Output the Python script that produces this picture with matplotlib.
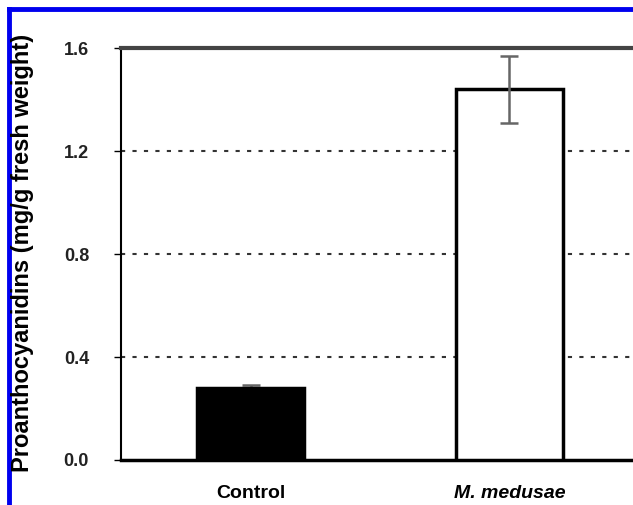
import matplotlib

matplotlib.use("Agg")
import matplotlib.pyplot as plt
from matplotlib.lines import Line2D

# 数据
categories = ["Control", "M. medusae"]
values = [0.28, 1.44]
errors = [0.01, 0.13]
bar_colors = ["black", "white"]
yticks = [0.0, 0.4, 0.8, 1.2, 1.6]

plt.rcParams["font.family"] = ["Liberation Sans", "DejaVu Sans"]

fig = plt.figure(figsize=(6.33, 5.05), dpi=100)
ax = fig.add_axes([121 / 633, 1 - 460 / 505, 518 / 633, 412 / 505])

x = list(range(len(categories)))
ax.bar(x, values, width=0.41, color=bar_colors, edgecolor="black", linewidth=2.5, zorder=3)
# 黑色柱上的误差线下半部分被遮住
for xi, v, e, c in zip(x, values, errors, bar_colors):
    z = 2 if c == "black" else 4
    ax.errorbar([xi], [v], yerr=[e], fmt="none", ecolor="#666666", elinewidth=1.8,
                capsize=6.5, capthick=1.8, zorder=z)

ax.set_xlim(-0.5, 1.5)
ax.set_ylim(0, 1.6)
ax.set_yticks(yticks)
ax.set_yticklabels([f"{v:.1f}" for v in yticks], fontsize=13, fontweight="bold", color="#222222")
ax.tick_params(axis="y", direction="out", length=5, width=1, pad=18)
ax.tick_params(axis="x", length=0, labelbottom=False)

for y in yticks[1:-1]:
    ax.axhline(y, color="#333333", linestyle=(0, (2, 3.5)), linewidth=1.5, zorder=1)

ax.spines["top"].set_color("#444444")
ax.spines["top"].set_linewidth(3)
ax.spines["bottom"].set_linewidth(2.5)
ax.spines["left"].set_linewidth(1.5)
ax.spines["right"].set_visible(False)

# x 轴标签
for xi, name in zip(x, categories):
    style = "italic" if name.startswith("M.") else "normal"
    ax.text(xi, -0.13, name, ha="center", va="center", fontsize=14, fontweight="bold",
            fontstyle=style, clip_on=False)

fig.text(23 / 633, 0.5, "Proanthocyanidins (mg/g fresh weight)", rotation=90, ha="center",
         va="center", fontsize=17, fontweight="bold")

# 蓝色边框
fig.add_artist(Line2D([9 / 633, 1], [1 - 9 / 505, 1 - 9 / 505], color="#0000ee", linewidth=3.5))
fig.add_artist(Line2D([9 / 633, 9 / 633], [0, 1 - 9 / 505], color="#0000ee", linewidth=3.5))

plt.savefig("out.png", dpi=100)
plt.close()
